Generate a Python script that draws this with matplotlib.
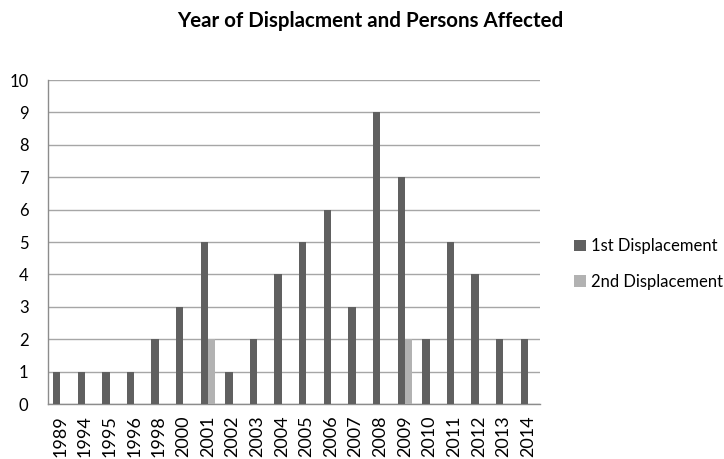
import matplotlib
matplotlib.use("Agg")
import matplotlib.pyplot as plt
import numpy as np
from matplotlib.patches import Patch

years = ["1989", "1994", "1995", "1996", "1998", "2000", "2001", "2002", "2003", "2004",
         "2005", "2006", "2007", "2008", "2009", "2010", "2011", "2012", "2013", "2014"]
first_disp = [1, 1, 1, 1, 2, 3, 5, 1, 2, 4, 5, 6, 3, 9, 7, 2, 5, 4, 2, 2]
second_disp = [0, 0, 0, 0, 0, 0, 2, 0, 0, 0, 0, 0, 0, 0, 2, 0, 0, 0, 0, 0]
series_names = ["1st Displacement", "2nd Displacement"]

plt.rcParams['font.family'] = ['Lato', 'DejaVu Sans']

fig = plt.figure(figsize=(7.24, 4.59), dpi=100)
ax = fig.add_axes([0.0663, 0.1198, 0.680, 0.7059])

dark = "#606060"
light = "#b2b2b2"
x = np.arange(len(years))
w = 0.3
ax.bar(x - w / 2, first_disp, width=w, color=dark, zorder=3)
ax.bar(x + w / 2, second_disp, width=w, color=light, zorder=3)

ax.set_xlim(-0.5, len(years) - 0.5)
ax.set_ylim(0, 10)
ax.set_yticks(range(0, 11))
ax.set_xticks(x)
ax.set_xticklabels(years, rotation=90, fontsize=13)
ax.tick_params(axis='y', labelsize=12, length=0, pad=14)
ax.tick_params(axis='x', length=0, pad=8)
for lbl in ax.get_yticklabels():
    lbl.set_horizontalalignment('right')

ax.grid(axis='y', color="#a6a6a6", linewidth=1, zorder=0)
for s in ["top", "right"]:
    ax.spines[s].set_visible(False)
for s in ["left", "bottom"]:
    ax.spines[s].set_color("#8c8c8c")
    ax.spines[s].set_linewidth(1)

fig.text(0.511, 0.955, "Year of Displacment and Persons Affected", ha='center', va='center',
         fontsize=14.8, fontweight='bold')

handles = [Patch(facecolor=dark), Patch(facecolor=light)]
fig.legend(handles, series_names, loc='center left', bbox_to_anchor=(0.772, 0.425),
           frameon=False, fontsize=12, handlelength=0.7, handleheight=0.7,
           handletextpad=0.3, labelspacing=1.15)

fig.savefig("out.png", dpi=100, facecolor="white")
